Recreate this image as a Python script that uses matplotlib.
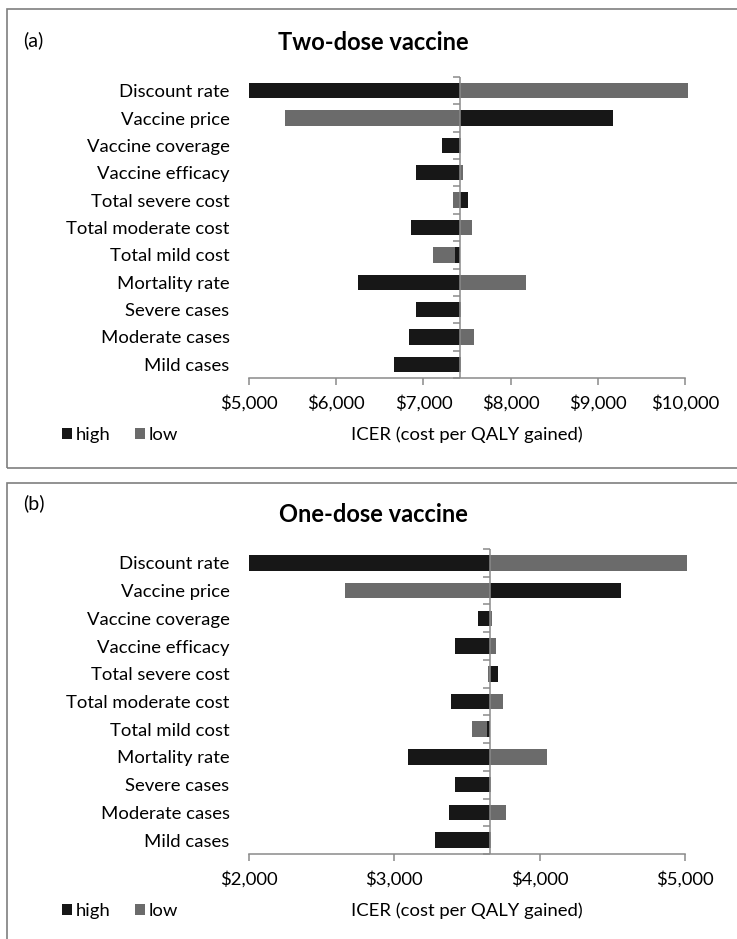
import numpy as np
import matplotlib
matplotlib.use("Agg")
import matplotlib.pyplot as plt
from matplotlib.patches import Rectangle, Patch

plt.rcParams['font.family'] = ['Lato', 'DejaVu Sans']
plt.rcParams['font.size'] = 13.3

# parameters of the one-way sensitivity analysis (top to bottom)
params = ["Discount rate", "Vaccine price", "Vaccine coverage", "Vaccine efficacy",
          "Total severe cost", "Total moderate cost", "Total mild cost",
          "Mortality rate", "Severe cases", "Moderate cases", "Mild cases"]

# (a) two-dose vaccine, ICER in $ per QALY
base_two = 7420
high_two = [5000, 9170, 7208, 6910, 7506, 6862, 7364, 6249, 6920, 6836, 6663]
low_two = [10030, 5408, 7432, 7450, 7345, 7556, 7115, 8177, 7432, 7583, 7432]
ticks_two = [5000, 6000, 7000, 8000, 9000, 10000]

# (b) one-dose vaccine
base_one = 3660
high_one = [2000, 4559, 3573, 3418, 3712, 3390, 3638, 3097, 3418, 3377, 3278]
low_one = [5014, 2663, 3670, 3697, 3645, 3751, 3535, 4050, 3666, 3767, 3666]
ticks_one = [2000, 3000, 4000, 5000]

C_HIGH = '#171717'
C_LOW = '#6b6b6b'
GRAY = '#8a8a8a'

W, H = 737, 939
fig = plt.figure(figsize=(W / 100, H / 100), dpi=100)


def fx(px):
    return px / W


def fy(py):
    return 1 - py / H


def panel(box, top, bottom, tag, tag_y, title, title_y, base, high, low, ticks, lab_y):
    # frame around the panel
    fig.add_artist(Rectangle((fx(7), fy(box[1])), 1.0, fy(box[0]) - fy(box[1]),
                             transform=fig.transFigure, fill=False, ec='#7f7f7f', lw=1.2))

    ax = fig.add_axes([fx(249), fy(bottom), fx(685) - fx(249), fy(top) - fy(bottom)])
    y = np.arange(len(params))
    ax.barh(y, np.array(low) - base, left=base, height=0.56, color=C_LOW, clip_on=False)
    ax.barh(y, np.array(high) - base, left=base, height=0.56, color=C_HIGH, clip_on=False)
    ax.set_ylim(len(params) - 0.5, -0.5)
    ax.set_xlim(ticks[0], ticks[-1])

    # vertical axis through the base case
    ax.axvline(base, color=GRAY, lw=1.1)
    ax.plot([base] * (len(params) + 1), np.arange(-0.5, len(params)), marker=0,
            ls='none', ms=5, mew=1.1, color=GRAY, clip_on=False)

    ax.set_yticks(y, params)
    ax.tick_params(axis='y', length=0, pad=14)
    ax.set_xticks(ticks, [f'${t:,}' for t in ticks])
    ax.tick_params(axis='x', direction='out', length=5, width=1.1, color=GRAY, pad=7)
    for s in ['top', 'right', 'left']:
        ax.spines[s].set_visible(False)
    ax.spines['bottom'].set_color(GRAY)
    ax.spines['bottom'].set_linewidth(1.1)

    fig.text(fx(23), fy(tag_y), tag, ha='left', va='center', fontsize=14)
    fig.text(fx(373), fy(title_y), title, ha='center', va='center',
             fontsize=17, fontweight='bold')
    fig.text(fx(467), fy(lab_y), 'ICER (cost per QALY gained)', ha='center', va='center')
    fig.legend(handles=[Patch(fc=C_HIGH), Patch(fc=C_LOW)], labels=['high', 'low'],
               loc='center left', bbox_to_anchor=(fx(62), fy(lab_y)), ncol=2,
               frameon=False, handlelength=0.55, handleheight=0.55, handletextpad=0.2,
               columnspacing=1.3, borderpad=0, borderaxespad=0)


panel((9, 468), 77, 378, '(a)', 40, 'Two-dose vaccine', 42,
      base_two, high_two, low_two, ticks_two, 435)
panel((483, 960), 549, 854, '(b)', 503, 'One-dose vaccine', 514,
      base_one, high_one, low_one, ticks_one, 911)

fig.savefig('out.png', dpi=100)
